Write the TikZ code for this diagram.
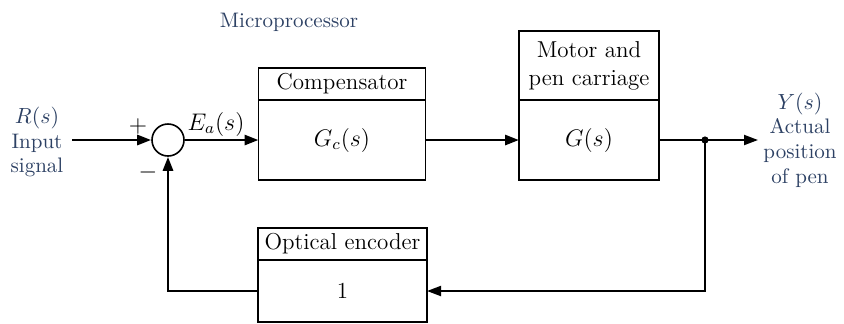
\documentclass[tikz,border=0pt]{standalone}
\usepackage{tikz}
\usetikzlibrary{arrows.meta,positioning}

\definecolor{labelblue}{RGB}{45,65,100}

\begin{document}
\begin{tikzpicture}[
  x=0.5pt, y=-0.5pt,
  every node/.style={font=\fontsize{11.5}{14}\selectfont},
  blockhead/.style={draw, line width=0.8pt, outer sep=0pt, inner sep=1pt, align=center},
  blockbody/.style={draw, line width=0.8pt, outer sep=0pt},
  sig/.style={line width=1.4pt, -{Triangle[length=7pt,width=5pt]}},
  wire/.style={line width=1pt},
  sidelabel/.style={labelblue, align=center, font=\fontsize{10.5}{12.3}\selectfont},
]
\useasboundingbox (0,0) rectangle (844,323);

%% -- summing junction and input -------------------------------------------
\coordinate (in) at (72,140);
\node[draw, circle, line width=0.8pt, minimum size=16pt, inner sep=0pt] (sum) at (168,140) {};
\node[sidelabel] (rlab) at (37,142) {$R(s)$\\Input\\signal};
\node (plus) at (138,126) {$+$};
\node (minus) at (148,172) {$-$};
\node (ea) at (216,124) {$E_a(s)$};

%% -- compensator (microprocessor) -----------------------------------------
\node[blockbody, minimum width=83.5pt, minimum height=40pt] (comp) at (342,140) {$G_c(s)$};
\node[blockhead, minimum width=83.5pt, minimum height=16pt, above=0pt of comp] (comphead) {Compensator};
\node[sidelabel] (micro) at (289,22) {Microprocessor};

%% -- motor and pen carriage -----------------------------------------------
\node[blockbody, minimum width=70pt, minimum height=40pt] (motor) at (589,140) {$G(s)$};
\node[blockhead, minimum width=70pt, minimum height=34.5pt, above=0pt of motor] (motorhead) {Motor and\\pen carriage};

%% -- output ----------------------------------------------------------------
\coordinate (branch) at (705,140);
\coordinate (out) at (758,140);
\node[sidelabel] (ylab) at (800,140) {$Y(s)$\\Actual\\position\\of pen};

%% -- optical encoder (feedback) -------------------------------------------
\node[blockbody, minimum width=84.5pt, minimum height=31pt] (enc) at (342.5,291) {1};
\node[blockhead, minimum width=84.5pt, minimum height=16pt, above=0pt of enc] (enchead) {Optical encoder};

%% -- connectors ------------------------------------------------------------
\draw[sig] (in) -- (sum.west);
\draw[sig] (sum.east) -- (comp.west);
\draw[sig] (comp.east) -- (motor.west);
\draw[wire] (motor.east) -- (branch);
\draw[wire, -{Triangle[length=7pt,width=5pt]}] (branch) -- (out);
\fill (branch) circle (1.8pt);
\draw[wire, -{Triangle[length=7pt,width=5pt]}] (branch) |- (enc.east);
\draw[sig] (enc.west) -| (sum.south);

\end{tikzpicture}
\end{document}
